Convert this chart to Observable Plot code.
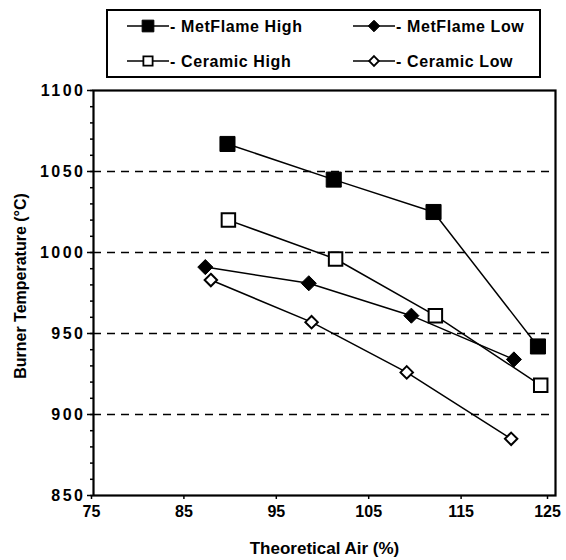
<!DOCTYPE html>
<html><head><meta charset="utf-8">
<script src="https://cdn.jsdelivr.net/npm/d3@7"></script>
<script src="https://cdn.jsdelivr.net/npm/@observablehq/plot@0.6"></script>
<style>
body{margin:0;background:#fff;font-family:"Liberation Sans",Arial,sans-serif;}
#wrap{position:relative;width:566px;height:560px;background:#fff;}
#legend{position:absolute;left:0;top:0;}
#chart{position:absolute;left:0;top:82px;}
g[aria-label="y-axis tick label"] text{letter-spacing:2.5px;}
</style></head><body>
<div id="wrap"><svg id="legend" width="566" height="82"></svg><div id="chart"></div></div>
<script>
// ---- data ----
const seriesNames = ["MetFlame High", "MetFlame Low", "Ceramic High", "Ceramic Low"];
const airMetFlameHigh = [89.5, 101.0, 111.8, 123.1];
const tempMetFlameHigh = [1067, 1045, 1025, 942];
const airMetFlameLow = [87.1, 98.3, 109.4, 120.5];
const tempMetFlameLow = [991, 981, 961, 934];
const airCeramicHigh = [89.6, 101.2, 112.0, 123.4];
const tempCeramicHigh = [1020, 996, 961, 918];
const airCeramicLow = [87.7, 98.6, 108.9, 120.2];
const tempCeramicLow = [983, 957, 926, 885];
const xTicks = [75, 85, 95, 105, 115];
const xLastTick = [125];
const yTicks = [850, 900, 950, 1000, 1050, 1100];
const yMinorTicks = d3.range(850, 1101, 10);
const gridTemps = [900, 950, 1000, 1050];
const xTitle = "Theoretical Air (%)";
const yTitle = "Burner Temperature (°C)";

const toRows = (name, xs, ys) => xs.map((x, i) => ({series: name, air: x, temp: ys[i]}));
const data = {
  "MetFlame High": toRows("MetFlame High", airMetFlameHigh, tempMetFlameHigh),
  "MetFlame Low": toRows("MetFlame Low", airMetFlameLow, tempMetFlameLow),
  "Ceramic High": toRows("Ceramic High", airCeramicHigh, tempCeramicHigh),
  "Ceramic Low": toRows("Ceramic Low", airCeramicLow, tempCeramicLow)
};
const styles = {
  "MetFlame High": {symbol: "square", fill: "black", r: 8.5, lr: 6.6},
  "MetFlame Low": {symbol: "diamond2", fill: "black", r: 6.8, lr: 5.2},
  "Ceramic High": {symbol: "square", fill: "white", r: 7.6, lr: 5.2},
  "Ceramic Low": {symbol: "diamond2", fill: "white", r: 5.6, lr: 4.4}
};

const FONT = "'Liberation Sans', Arial, sans-serif";
const fmt = d => String(d);
const marks = [
  Plot.ruleY(gridTemps, {stroke: "black", strokeWidth: 1.6, strokeDasharray: "8,6"}),
  Plot.axisY(yMinorTicks, {tickSize: 3, tickFormat: () => "", label: null, strokeWidth: 1.5}),
  Plot.axisY(yTicks, {tickSize: 6, tickPadding: 2, tickFormat: fmt, label: null, strokeWidth: 1.5, fontSize: 16, fontWeight: "bold"}),
  Plot.axisX(xTicks, {tickSize: 4, tickPadding: 6, tickFormat: fmt, label: null, strokeWidth: 1.5, fontSize: 16, fontWeight: "bold", dx: -2}),
  Plot.axisX(xLastTick, {tickSize: 4, tickPadding: 6, tickFormat: fmt, label: null, strokeWidth: 1.5, fontSize: 16, fontWeight: "bold", dx: -8}),
  Plot.frame({stroke: "black", strokeWidth: 2.2}),
  Plot.text([xTitle], {text: d => d, frameAnchor: "bottom", lineAnchor: "middle", dy: 53, fontSize: 17, fontWeight: "bold"}),
  Plot.text([yTitle], {text: d => d, frameAnchor: "left", textAnchor: "middle", lineAnchor: "middle", dx: -73, dy: -7, rotate: -90, fontSize: 16, fontWeight: "bold"})
];
for (const name of seriesNames) {
  marks.push(Plot.line(data[name], {x: "air", y: "temp", stroke: "black", strokeWidth: 1.5}));
}
for (const name of seriesNames) {
  const s = styles[name];
  marks.push(Plot.dot(data[name], {x: "air", y: "temp", symbol: s.symbol, r: s.r, fill: s.fill, stroke: "black", strokeWidth: s.fill === "white" ? 2 : 1}));
}

const chart = Plot.plot({
  width: 566, height: 478,
  marginTop: 8, marginLeft: 93, marginRight: 11, marginBottom: 65,
  x: {domain: [75, 125]},
  y: {domain: [850, 1100]},
  style: {fontFamily: FONT, fontSize: "16px", fontWeight: "bold", background: "white", color: "black"},
  marks
});
document.getElementById("chart").appendChild(chart);

// ---- legend ----
const lg = d3.select("#legend");
lg.append("rect").attr("x", 107).attr("y", 10).attr("width", 433).attr("height", 67)
  .attr("fill", "white").attr("stroke", "black").attr("stroke-width", 2);
const pos = {
  "MetFlame High": {x: 127, y: 26},
  "MetFlame Low": {x: 353, y: 26},
  "Ceramic High": {x: 127, y: 61},
  "Ceramic Low": {x: 353, y: 61}
};
for (const name of seriesNames) {
  const p = pos[name], s = styles[name];
  lg.append("line").attr("x1", p.x).attr("x2", p.x + 42).attr("y1", p.y).attr("y2", p.y)
    .attr("stroke", "black").attr("stroke-width", 1.5);
  const sym = s.symbol === "square" ? d3.symbolSquare : d3.symbolDiamond2;
  lg.append("path").attr("d", d3.symbol(sym, Math.PI * s.lr * s.lr)())
    .attr("transform", `translate(${p.x + 21},${p.y})`)
    .attr("fill", s.fill).attr("stroke", "black").attr("stroke-width", s.fill === "white" ? 1.8 : 1);
  lg.append("text").attr("x", p.x + 43).attr("y", p.y).attr("dy", "0.36em")
    .attr("font-family", FONT).attr("font-size", 16).attr("font-weight", "bold")
    .attr("letter-spacing", "0.6px").text("- " + name);
}
</script>
</body></html>
